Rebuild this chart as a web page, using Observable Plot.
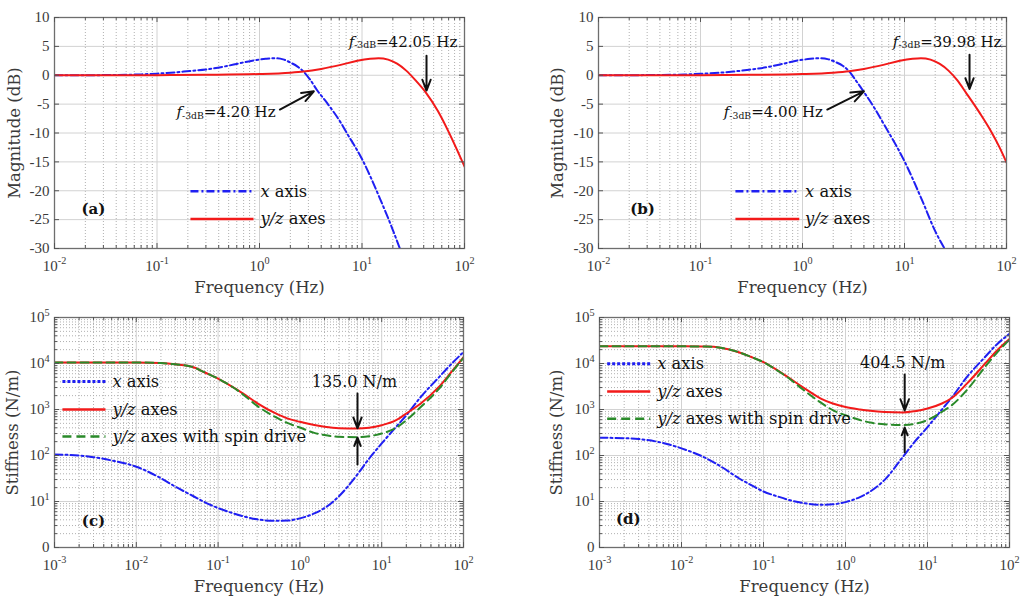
<!DOCTYPE html>
<html><head><meta charset="utf-8">
<script src="https://cdn.jsdelivr.net/npm/d3@7"></script>
<script src="https://cdn.jsdelivr.net/npm/@observablehq/plot@0.6"></script>
<style>
body{margin:0;background:#fff;}
#fig{position:relative;width:1024px;height:601px;overflow:hidden;background:#fff;}
#fig > div{position:absolute;}
</style></head><body><div id="fig"></div>
<script>
// ---------- Panel (a): magnitude ----------
const freqA_x = [0.01,0.02,0.04,0.07,0.1,0.15,0.21,0.3,0.45,0.65,0.9,1.15,1.4,1.7,2.0,2.35,2.7,3.1,3.65,4.56,6.2,7,10,15,20,23.4];
const magA_x  = [0,0.01,0.05,0.15,0.28,0.5,0.75,1.0,1.5,2.1,2.6,2.85,2.95,2.75,2.2,1.5,0.6,-0.7,-2.6,-4.8,-8.2,-9.8,-14.5,-21.4,-26.8,-30];
const freqA_yz = [0.01,0.1,0.3,1,2,2.7,4,6.2,9,12,14.5,18,22,27,33,42,55,70,85,100];
const magA_yz  = [0,0.02,0.08,0.22,0.45,0.65,1.1,1.8,2.5,2.85,2.95,2.7,2.0,0.8,-0.8,-3.0,-6.2,-9.8,-13.0,-15.8];
// ---------- Panel (b): magnitude ----------
const freqB_x = [0.01,0.02,0.04,0.07,0.1,0.15,0.21,0.3,0.45,0.65,0.9,1.2,1.5,1.8,2.1,2.5,2.86,3.3,4.0,5.0,6.2,7,10,15,20,24.7];
const magB_x  = [0,0.01,0.05,0.13,0.25,0.42,0.65,0.95,1.4,2.0,2.55,2.85,2.95,2.75,2.3,1.6,0.7,-0.8,-2.9,-5.5,-8.3,-9.9,-14.9,-21.8,-27.0,-30];
const freqB_yz = [0.01,0.1,0.3,1,2,2.86,4,6.2,9,12,14.5,18,22,27,33,40,55,70,85,100];
const magB_yz  = [0,0.02,0.08,0.22,0.45,0.7,1.1,1.8,2.5,2.85,2.95,2.7,2.0,0.8,-0.9,-3.0,-6.6,-9.6,-12.4,-15.1];
// ---------- Panel (c): stiffness ----------
const freqC = [0.001,0.002,0.003,0.005,0.01,0.02,0.03,0.05,0.07,0.1,0.15,0.2,0.3,0.5,0.7,1,1.5,2,3,5,7,10,15,20,30,50,70,100];
const stiffC_x    = [105,100,92,78,57,32,21,13,9.5,7.2,5.6,4.8,4.1,3.8,3.85,4.3,5.5,7.2,13,38,85,183,420,750,1870,5000,9500,17700];
const stiffC_yz   = [10500,10500,10500,10500,10500,10200,9600,8300,6300,4700,3100,2250,1380,830,640,540,460,420,390,385,400,455,585,820,1350,3100,6300,13700];
const stiffC_spin = [10500,10500,10500,10500,10500,10200,9600,8300,6300,4700,3080,2150,1200,690,510,405,310,278,255,250,262,300,400,585,1130,2800,6000,13300];
// ---------- Panel (d): stiffness ----------
const freqD = [0.001,0.002,0.003,0.005,0.01,0.02,0.03,0.05,0.07,0.1,0.15,0.2,0.3,0.5,0.7,1,1.5,2,3,5,7,10,15,20,30,50,70,100];
const stiffD_x    = [243,238,228,200,143,87,58,32,23,16.5,12.8,10.9,9.3,8.5,8.7,9.7,12.5,16.5,29.5,93,200,415,1000,1870,5000,13700,26000,44000];
const stiffD_yz   = [23700,23700,23700,23700,23600,23300,22000,17600,14000,10700,7000,5000,3070,1730,1350,1130,1000,935,880,860,920,1050,1350,1800,3600,9800,19000,34000];
const stiffD_spin = [23700,23700,23700,23700,23600,23300,22000,17600,14000,10700,6900,4900,2750,1410,970,750,590,520,475,460,490,590,890,1260,2600,8300,17000,33000];
// ---------- ticks & labels ----------
const magTicks = [-30,-25,-20,-15,-10,-5,0,5,10];
const freqTicksAB = [0.01,0.1,1,10,100];
const freqTicksCD = [0.001,0.01,0.1,1,10,100];
const stiffTicks = [1,10,100,1000,10000,100000];
const stiffTickLabels = ["0","10^{1}","10^{2}","10^{3}","10^{4}","10^{5}"];
const legendMag = ["*x* axis","*y/z* axes"];
const legendStiff = ["*x* axis","*y/z* axes","*y/z* axes with spin drive"];
const notesA = ["*f*_{-3dB}=4.20 Hz","*f*_{-3dB}=42.05 Hz"];
const notesB = ["*f*_{-3dB}=4.00 Hz","*f*_{-3dB}=39.98 Hz"];
const noteC = "135.0 N/m";
const noteD = "404.5 N/m";

// ---------- helpers ----------
const NS = "http://www.w3.org/2000/svg";
const rows = (f, v) => f.map((x, i) => ({f: x, v: v[i]}));
function minorLog(ticks) {
  const out = [];
  for (let i = 0; i < ticks.length - 1; i++) for (let k = 2; k <= 9; k++) out.push(ticks[i] * k);
  return out;
}
const fmtPow = d => "10^{" + Math.round(Math.log10(d)) + "}";
const COL = {x: "#1f1ff2", yz: "#f21a1a", spin: "#2a8a2a"};

function rich(svg) {
  svg.querySelectorAll("text").forEach(el => {
    if (el.querySelector("tspan")) return;
    const s = el.textContent;
    if (!/[\^_*]/.test(s)) return;
    const fs = parseFloat(getComputedStyle(el).fontSize) || 16;
    el.textContent = "";
    const re = /\^\{([^}]*)\}|_\{([^}]*)\}|\*([^*]*)\*|([^\^_*]+)/g;
    let m, pending = 0;
    while ((m = re.exec(s))) {
      const t = document.createElementNS(NS, "tspan");
      let shift = 0;
      if (m[1] != null) { t.textContent = m[1]; t.setAttribute("font-size", (fs * 0.68) + "px"); shift = -0.45 * fs; }
      else if (m[2] != null) { t.textContent = m[2]; t.setAttribute("font-size", (fs * 0.62) + "px"); shift = 0.12 * fs; }
      else if (m[3] != null) { t.textContent = m[3]; t.setAttribute("font-style", "italic"); }
      else t.textContent = m[4];
      const dy = shift + pending;
      if (dy) t.setAttribute("dy", dy.toFixed(2));
      pending = -shift;
      el.appendChild(t);
    }
  });
}

function panel(o) {
  const iw = o.width - o.ml - o.mr, ih = o.height - o.mt - o.mb;
  const grid = {stroke: "#d2d2d2", strokeWidth: 1};
  const minor = {stroke: "#b0b0b0", strokeWidth: 1, strokeDasharray: "1,2"};
  const marks = [];
  marks.push(Plot.ruleX(o.xMinor, minor));
  if (o.yMinor) marks.push(Plot.ruleY(o.yMinor, minor));
  marks.push(Plot.ruleX(o.xTicks, grid));
  marks.push(Plot.ruleY(o.yTicks, grid));
  for (const s of o.series)
    marks.push(Plot.line(s.rows, {x: "f", y: "v", stroke: s.color, strokeWidth: 2, strokeDasharray: s.dash, curve: "monotone-x", clip: true}));
  o.legend.forEach(e => {
    marks.push(Plot.link([e], {x1: "x1", x2: "x2", y1: "y", y2: "y", stroke: e.color, strokeWidth: e.width, strokeDasharray: e.dash}));
    marks.push(Plot.text([e], {x: "xt", y: "y", text: "label", textAnchor: "start", fontSize: 16.3, fill: "#111"}));
  });
  marks.push(Plot.text(o.notes, {x: "f", y: "v", text: "label", fontSize: o.noteSize, fill: "#111"}));
  marks.push(Plot.arrow(o.arrows, {x1: "x1", y1: "y1", x2: "x2", y2: "y2", stroke: "#111", strokeWidth: 2, headLength: 11, headAngle: 42}));
  marks.push(Plot.text([o.tag], {x: "f", y: "v", text: "label", fontSize: 15, fontWeight: "bold", fill: "#111"}));
  marks.push(Plot.frame({stroke: "#6e6e6e", strokeWidth: 1.3}));
  // inward ticks on all four sides
  const tk = {stroke: "#555", strokeWidth: 1};
  marks.push(Plot.tickX(o.xTicks, {x: d => d, insetTop: ih - 5, ...tk}));
  marks.push(Plot.tickX(o.xTicks, {x: d => d, insetBottom: ih - 5, ...tk}));
  marks.push(Plot.tickX(o.xMinor, {x: d => d, insetTop: ih - 3, ...tk}));
  marks.push(Plot.tickX(o.xMinor, {x: d => d, insetBottom: ih - 3, ...tk}));
  marks.push(Plot.tickY(o.yTicks, {y: d => d, insetRight: iw - 5, ...tk}));
  marks.push(Plot.tickY(o.yTicks, {y: d => d, insetLeft: iw - 5, ...tk}));
  if (o.yMinor) {
    marks.push(Plot.tickY(o.yMinor, {y: d => d, insetRight: iw - 3, ...tk}));
    marks.push(Plot.tickY(o.yMinor, {y: d => d, insetLeft: iw - 3, ...tk}));
  }
  marks.push(Plot.axisX(o.xTicks, {tickSize: 0, tickPadding: 12, tickFormat: fmtPow, fontFamily: "Liberation Serif", fontSize: 15, fill: "#3a3a3a", label: null}));
  marks.push(Plot.axisY(o.yTicks, {tickSize: 0, tickPadding: 5, tickFormat: o.yFormat, fontFamily: "Liberation Serif", fontSize: 15, fill: "#3a3a3a", label: null}));
  marks.push(Plot.text(["Frequency (Hz)"], {frameAnchor: "bottom", textAnchor: "middle", dy: o.xlabelDy, fontSize: 16.5, fill: "#3a3a3a"}));
  marks.push(Plot.text([o.ylabel], {frameAnchor: "left", textAnchor: "middle", rotate: -90, dx: o.ylabelDx, fontSize: 16.5, fill: "#3a3a3a"}));
  const svg = Plot.plot({
    width: o.width, height: o.height,
    marginLeft: o.ml, marginRight: o.mr, marginTop: o.mt, marginBottom: o.mb,
    style: {fontFamily: "DejaVu Serif", fontSize: "16px", background: "transparent", overflow: "visible"},
    x: {type: "log", domain: o.xDomain},
    y: {type: o.yType, domain: o.yDomain},
    marks
  });
  const div = document.createElement("div");
  div.style.left = o.left + "px"; div.style.top = o.top + "px";
  div.appendChild(svg);
  document.getElementById("fig").appendChild(div);
  rich(svg);
}

const magSeries = (fx, mx, fyz, myz) => [
  {rows: rows(fx, mx), color: COL.x, dash: "8,3,2,3"},
  {rows: rows(fyz, myz), color: COL.yz, dash: null}
];
const magLegend = (x1, x2, xt, ys) => [
  {label: legendMag[0], color: COL.x, dash: "8,3,2,3", width: 2.5, x1, x2, xt, y: ys[0]},
  {label: legendMag[1], color: COL.yz, dash: null, width: 2.5, x1, x2, xt, y: ys[1]}
];
const stiffSeries = (f, sx, syz, ssp) => [
  {rows: rows(f, sx), color: COL.x, dash: "8,3,2,3"},
  {rows: rows(f, syz), color: COL.yz, dash: null},
  {rows: rows(f, ssp), color: COL.spin, dash: "8,5"}
];
const stiffLegend = (x1, x2, xt, ys) => [
  {label: legendStiff[0], color: COL.x, dash: "3,2", width: 3, x1, x2, xt, y: ys[0]},
  {label: legendStiff[1], color: COL.yz, dash: null, width: 2.5, x1, x2, xt, y: ys[1]},
  {label: legendStiff[2], color: COL.spin, dash: "9,5", width: 2.5, x1, x2, xt, y: ys[2]}
];
const magFmt = d => String(d);
const stiffFmt = d => stiffTickLabels[stiffTicks.indexOf(d)];

// (a)
panel({
  left: 0, top: 0, width: 512, height: 300, ml: 54, mr: 48, mt: 17, mb: 52,
  xDomain: [0.01, 100], yDomain: [-30, 10], yType: "linear",
  xTicks: freqTicksAB, xMinor: minorLog(freqTicksAB), yTicks: magTicks, yMinor: null, yFormat: magFmt,
  series: magSeries(freqA_x, magA_x, freqA_yz, magA_yz),
  legend: magLegend(0.212, 0.874, 1.02, [-20.1, -24.9]),
  notes: [{f: 0.471, v: -6.46, label: notesA[0]}, {f: 25.1, v: 5.8, label: notesA[1]}], noteSize: 15,
  arrows: [{x1: 1.58, y1: -5.94, x2: 3.39, y2: -2.78}, {x1: 42.6, y1: 3.38, x2: 42.6, y2: -2.66}],
  tag: {f: 0.024, v: -23.2, label: "(a)"},
  ylabel: "Magnitude (dB)", ylabelDx: -40, xlabelDy: 44.5
});
// (b)
panel({
  left: 512, top: 0, width: 512, height: 300, ml: 86, mr: 18, mt: 17, mb: 52,
  xDomain: [0.01, 100], yDomain: [-30, 10], yType: "linear",
  xTicks: freqTicksAB, xMinor: minorLog(freqTicksAB), yTicks: magTicks, yMinor: null, yFormat: magFmt,
  series: magSeries(freqB_x, magB_x, freqB_yz, magB_yz),
  legend: magLegend(0.22, 0.93, 1.06, [-20.1, -24.9]),
  notes: [{f: 0.518, v: -6.46, label: notesB[0]}, {f: 26.2, v: 5.8, label: notesB[1]}], noteSize: 15,
  arrows: [{x1: 1.75, y1: -5.94, x2: 4.0, y2: -2.78}, {x1: 43.4, y1: 3.56, x2: 43.4, y2: -2.37}],
  tag: {f: 0.027, v: -23.2, label: "(b)"},
  ylabel: "Magnitude (dB)", ylabelDx: -41, xlabelDy: 44.5
});
// (c)
panel({
  left: 0, top: 300, width: 512, height: 301, ml: 54, mr: 49, mt: 17, mb: 54,
  xDomain: [0.001, 100], yDomain: [1, 1e5], yType: "log",
  xTicks: freqTicksCD, xMinor: minorLog(freqTicksCD), yTicks: stiffTicks, yMinor: minorLog(stiffTicks), yFormat: stiffFmt,
  series: stiffSeries(freqC, stiffC_x, stiffC_yz, stiffC_spin),
  legend: stiffLegend(0.00125, 0.0042, 0.0051, [4040, 1000, 260]),
  notes: [{f: 4.64, v: 4040, label: noteC}], noteSize: 16,
  arrows: [{x1: 5.06, y1: 2240, x2: 5.06, y2: 390}, {x1: 5.06, y1: 64, x2: 5.06, y2: 245}],
  tag: {f: 0.003, v: 3.72, label: "(c)"},
  ylabel: "Stiffness (N/m)", ylabelDx: -42, xlabelDy: 44.5
});
// (d)
panel({
  left: 512, top: 300, width: 512, height: 301, ml: 87, mr: 15, mt: 17, mb: 54,
  xDomain: [0.001, 100], yDomain: [1, 1e5], yType: "log",
  xTicks: freqTicksCD, xMinor: minorLog(freqTicksCD), yTicks: stiffTicks, yMinor: minorLog(stiffTicks), yFormat: stiffFmt,
  series: stiffSeries(freqD, stiffD_x, stiffD_yz, stiffD_spin),
  legend: stiffLegend(0.00124, 0.00416, 0.00506, [9900, 2450, 630]),
  notes: [{f: 4.98, v: 10200, label: noteD}], noteSize: 16,
  arrows: [{x1: 5.27, y1: 5750, x2: 5.27, y2: 955}, {x1: 5.27, y1: 117, x2: 5.27, y2: 405}],
  tag: {f: 0.00224, v: 4.1, label: "(d)"},
  ylabel: "Stiffness (N/m)", ylabelDx: -43, xlabelDy: 44.5
});
</script></body></html>
